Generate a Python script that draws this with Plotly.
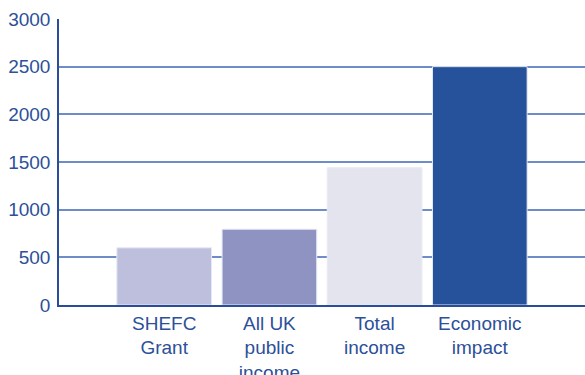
import plotly.graph_objects as go

categories = ["SHEFC<br>Grant", "All UK<br>public<br>income", "Total<br>income", "Economic<br>impact"]
values = [600, 795, 1440, 2500]
bar_colors = ["#bdbfdd", "#8f93c2", "#e4e4ef", "#26519b"]
y_ticks = [0, 500, 1000, 1500, 2000, 2500, 3000]

text_color = "#2c5099"
axis_color = "#2a4d9b"
grid_color = "#6d8cc8"

fig = go.Figure(
    go.Bar(
        x=list(range(len(categories))),
        y=values,
        marker=dict(color=bar_colors, line=dict(color="#e6eaf4", width=1)),
        width=0.9,
    )
)

fig.update_layout(
    width=585,
    height=375,
    margin=dict(l=59, r=0, t=19, b=70),
    paper_bgcolor="white",
    plot_bgcolor="white",
    showlegend=False,
    font=dict(family="Liberation Sans, Arial, sans-serif", size=19, color=text_color),
)

fig.update_xaxes(
    range=[-1, 4],
    tickvals=list(range(len(categories))),
    ticktext=categories,
    showgrid=False,
    showline=True,
    linecolor=axis_color,
    linewidth=1.5,
    ticks="",
    ticklabelstandoff=0,
    tickfont=dict(size=19, color=text_color),
    zeroline=False,
    automargin=False,
)

fig.update_yaxes(
    range=[0, 3000],
    tickvals=y_ticks,
    showgrid=True,
    gridcolor=grid_color,
    gridwidth=1.5,
    showline=True,
    linecolor=axis_color,
    linewidth=1.5,
    ticks="",
    ticklabelstandoff=3,
    tickfont=dict(size=19, color=text_color),
    zeroline=False,
    automargin=False,
)

fig.write_html("out.html")
